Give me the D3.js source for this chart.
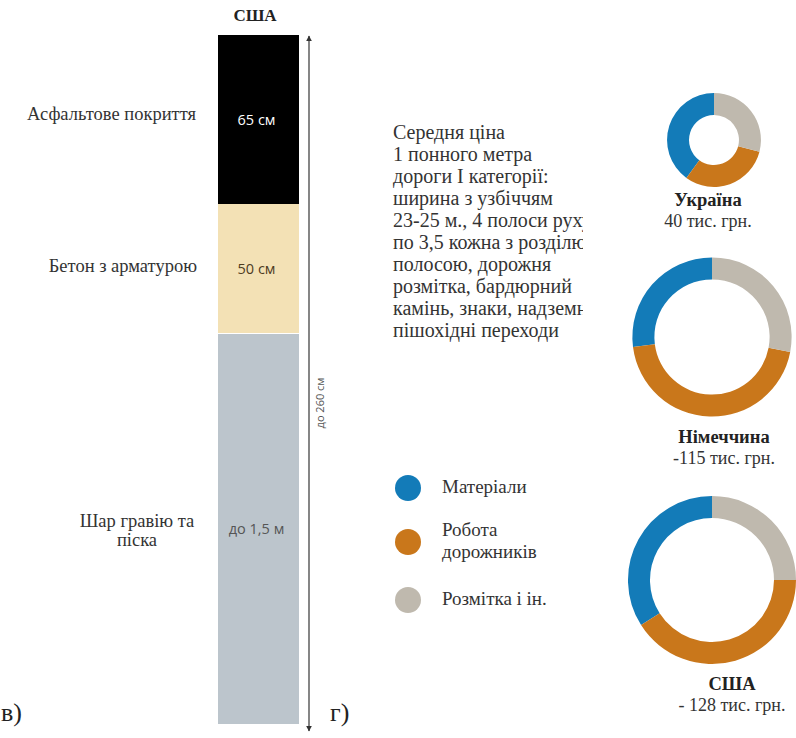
<!DOCTYPE html>
<html>
<head>
<meta charset="utf-8">
<script src="https://cdn.jsdelivr.net/npm/d3@7"></script>
<style>
    body { margin: 0; background: #fff; }
    svg { display: block; }
</style>
</head>
<body>
<div id="chart"></div>
<script>
// Road layers (USA), depth in cm
const layerNames = ['Асфальтове покриття', 'Бетон з арматурою', 'Шар гравію та піска'];
const layerDepth = [65, 50, 150];
const layerValueLabels = ['65 см', '50 см', 'до 1,5 м'];
const depthLabel = 'до 260 см';

// Cost structure per country
const categories = ['Матеріали', 'Робота дорожників', 'Розмітка і ін.'];
const countries = ['Україна', 'Німеччина', 'США'];
const prices = [40, 115, 128];  // тис. грн.
const priceLabels = ['40 тис. грн.', '-115 тис. грн.', '- 128 тис. грн.'];
const shares = [
    [40, 31, 29],
    [27, 45, 28],
    [34, 41, 25]
];

const noteLines = [
    'Середня ціна',
    '1 понного метра',
    'дороги I категорії:',
    'ширина з узбіччям',
    '23-25 м., 4 полоси руху',
    'по 3,5 кожна з розділювальною',
    'полосою, дорожня',
    'розмітка, бардюрний',
    'камінь, знаки, надземні',
    'пішохідні переходи'
];

const width = 796, height = 738;
const serif = "'Liberation Serif', 'Times New Roman', Times, 'DejaVu Serif', serif";
const sans = "'Open Sans', 'Noto Sans', sans-serif";
const textColor = '#333';

const layerColors = ['#000000', '#f3e1b5', '#bcc5cc'];
const layerTextColors = ['#ffffff', '#4d3b1f', '#555'];
const catColors = ['#137bb8', '#c9771b', '#bfb9ae'];

const svg = d3.select('#chart').append('svg')
    .attr('width', width)
    .attr('height', height);

// ---- left part: layer column ----
const total = d3.sum(layerDepth);
const y = d3.scaleLinear().domain([0, total]).range([35, 724]);
const barX = 218, barW = 81;
const tops = [0, ...d3.cumsum(layerDepth)];

svg.append('text')
    .attr('x', 255).attr('y', 21)
    .attr('text-anchor', 'middle')
    .attr('font-family', serif).attr('font-weight', 'bold').attr('font-size', 17)
    .attr('fill', '#222')
    .text('США');

const layers = svg.append('g');
layerDepth.forEach((d, i) => {
    const y0 = y(tops[i]), y1 = y(tops[i + 1]);
    layers.append('rect')
        .attr('x', barX).attr('y', y0)
        .attr('width', barW).attr('height', y1 - y0 - (i === 1 ? 1 : 0))
        .attr('fill', layerColors[i]);

    layers.append('text')
        .attr('x', barX + barW / 2 - 2).attr('y', (y0 + y1) / 2 + 5)
        .attr('text-anchor', 'middle')
        .attr('font-family', sans).attr('font-size', 14.5)
        .attr('fill', layerTextColors[i])
        .text(layerValueLabels[i]);
});

// layer names on the left
const nameX = [196, 197, 137];
const nameAnchor = ['end', 'end', 'middle'];
const nameY = [120, 272, 527];
layerNames.forEach((name, i) => {
    const words = i === 2 ? ['Шар гравію та', 'піска'] : [name];
    const t = layers.append('text')
        .attr('text-anchor', nameAnchor[i])
        .attr('font-family', serif).attr('font-size', 18.5)
        .attr('fill', textColor);
    words.forEach((w, k) => {
        t.append('tspan')
            .attr('x', nameX[i])
            .attr('y', nameY[i] + k * 19)
            .text(w);
    });
});

// double arrow with the total depth
const defs = svg.append('defs');
defs.append('marker')
    .attr('id', 'arr').attr('viewBox', '0 0 10 10')
    .attr('refX', 9).attr('refY', 5)
    .attr('markerWidth', 6).attr('markerHeight', 7)
    .attr('markerUnits', 'userSpaceOnUse')
    .attr('orient', 'auto-start-reverse')
    .append('path').attr('d', 'M0,0L10,5L0,10Z').attr('fill', '#333');

svg.append('line')
    .attr('x1', 309).attr('x2', 309)
    .attr('y1', y(0) + 1).attr('y2', y(total) + 7)
    .attr('stroke', '#444').attr('stroke-width', 1.3)
    .attr('marker-start', 'url(#arr)').attr('marker-end', 'url(#arr)');

svg.append('text')
    .attr('transform', `translate(324,${403}) rotate(-90)`)
    .attr('text-anchor', 'middle')
    .attr('font-family', sans).attr('font-size', 11)
    .attr('fill', '#555')
    .text(depthLabel);

// panel letters
svg.append('text').attr('x', 1).attr('y', 721)
    .attr('font-family', serif).attr('font-size', 26).attr('fill', '#222').text('в)');
svg.append('text').attr('x', 330).attr('y', 721)
    .attr('font-family', serif).attr('font-size', 26).attr('fill', '#222').text('г)');

// ---- right part: note ----
defs.append('clipPath').attr('id', 'noteClip')
    .append('rect').attr('x', 380).attr('y', 100).attr('width', 203).attr('height', 260);

svg.append('g').attr('clip-path', 'url(#noteClip)')
    .selectAll('text').data(noteLines).join('text')
    .attr('x', 393).attr('y', (d, i) => 139 + i * 22)
    .attr('font-family', serif).attr('font-size', 20)
    .attr('fill', textColor)
    .text(d => d);

// ---- donuts ----
const r = d3.scaleSqrt().domain([0, d3.max(prices)]).range([0, 84]);
const ringWidth = 22;
const pie = d3.pie().sort(null).startAngle(0).endAngle(-2 * Math.PI);
const donutX = [714, 712, 712];
const donutY = [140, 337, 580];
const labelX = [708, 724, 732];
const labelY = [206, 443, 690];

countries.forEach((c, i) => {
    const outer = r(prices[i]);
    const arc = d3.arc().innerRadius(outer - ringWidth).outerRadius(outer);
    const g = svg.append('g').attr('transform', `translate(${donutX[i]},${donutY[i]})`);
    g.selectAll('path').data(pie(shares[i])).join('path')
        .attr('d', arc)
        .attr('fill', (d, k) => catColors[k]);

    svg.append('text')
        .attr('x', labelX[i]).attr('y', labelY[i])
        .attr('text-anchor', 'middle')
        .attr('font-family', serif).attr('font-weight', 'bold').attr('font-size', 18.5)
        .attr('fill', '#222')
        .text(c);
    svg.append('text')
        .attr('x', labelX[i]).attr('y', labelY[i] + 21)
        .attr('text-anchor', 'middle')
        .attr('font-family', serif).attr('font-size', 18)
        .attr('fill', textColor)
        .text(priceLabels[i]);
});

// ---- legend ----
const legendY = [488, 542, 600];
const legend = svg.append('g');
categories.forEach((c, i) => {
    legend.append('circle')
        .attr('cx', 408).attr('cy', legendY[i]).attr('r', 13)
        .attr('fill', catColors[i]);
    const lines = i === 1 ? ['Робота', 'дорожників'] : [c];
    lines.forEach((w, k) => {
        legend.append('text')
            .attr('x', 442)
            .attr('y', legendY[i] + 5 + (lines.length > 1 ? (k - 0.5) * 22 : 0))
            .attr('font-family', serif).attr('font-size', 19)
            .attr('fill', textColor)
            .text(w);
    });
});
</script>
</body>
</html>
